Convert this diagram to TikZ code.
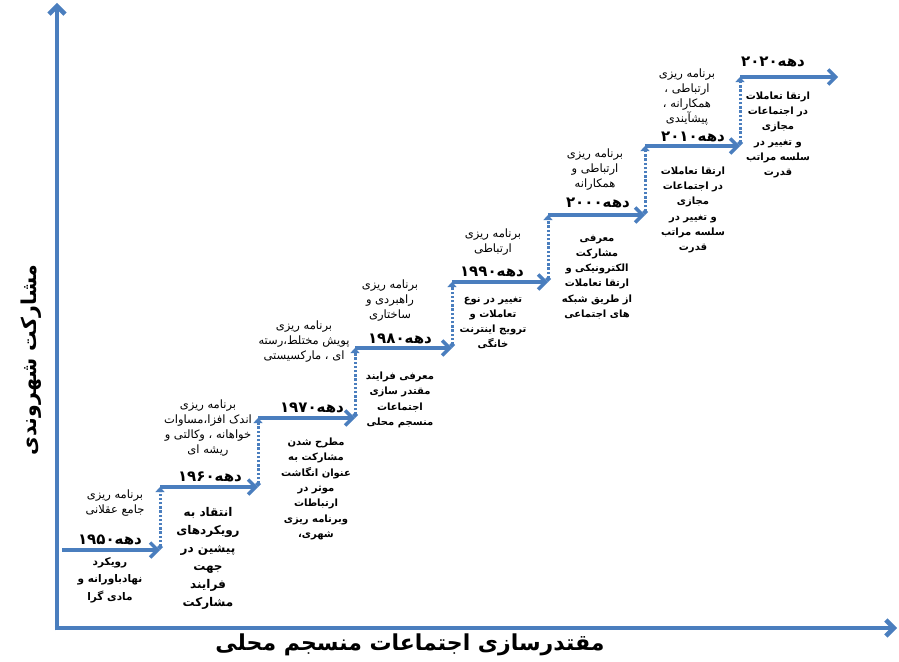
\documentclass[tikz,border=0pt]{standalone}
\usepackage{fontspec}
\usetikzlibrary{arrows.meta}
\TeXXeTstate=1
\newfontfamily\fa[Script=Arabic]{DejaVu Sans}
\definecolor{axblue}{RGB}{74,126,190}
\newcommand{\rl}[1]{\beginR #1\endR}
\begin{document}
\begin{tikzpicture}[x=1pt,y=-1pt,
  every node/.style={text=black, align=center, inner sep=0pt},
  smalltxt/.style={font=\fa\fontsize{11.5}{15}\selectfont},
  smallbold/.style={font=\fa\bfseries\fontsize{10}{15.3}\selectfont},
  midbold/.style={font=\fa\bfseries\fontsize{10.5}{17.5}\selectfont},
  bigbold/.style={font=\fa\bfseries\fontsize{12}{18}\selectfont},
  decade/.style={font=\fa\bfseries\fontsize{15}{16}\selectfont},
  axislabel/.style={font=\fa\bfseries\fontsize{22}{24}\selectfont},
  axislabelv/.style={font=\fa\bfseries\fontsize{20.5}{24}\selectfont},
  axisline/.style={draw=axblue, line width=4.5pt, -{Straight Barb[length=8pt,width=16pt]}},
  steparrow/.style={draw=axblue, line width=3.5pt, -{Straight Barb[length=7.5pt,width=15pt]}},
  dotconn/.style={draw=axblue, line width=3pt, dash pattern=on 2.4pt off 1.8pt,
    {Diamond[length=6pt,width=6pt]}-{Triangle[length=5pt,width=9pt]}}
]
\useasboundingbox (0,0) rectangle (899,661);
% axes
\coordinate (vstart) at (57,630.25);
\coordinate (ytop) at (57,3);
\coordinate (hstart) at (54.75,628);
\coordinate (xend) at (897,628);
\draw[axisline] (vstart) -- (ytop);
\draw[axisline] (hstart) -- (xend);
% staircase points
\coordinate (a0) at (62,550);
\coordinate (a1) at (160,550);
\coordinate (b1) at (160,487);
\coordinate (b2) at (258,487);
\coordinate (c2) at (258,418);
\coordinate (c3) at (355,418);
\coordinate (d3) at (355,348);
\coordinate (d4) at (452,348);
\coordinate (e4) at (452,282);
\coordinate (e5) at (548,282);
\coordinate (f5) at (548,215);
\coordinate (f6) at (645,215);
\coordinate (g6) at (645,146);
\coordinate (g7) at (740,146);
\coordinate (h7) at (740,77);
\coordinate (h8) at (838,77);
\draw[steparrow] (a0) -- (a1);
\draw[dotconn] (a1) -- (b1);
\draw[steparrow] (b1) -- (b2);
\draw[dotconn] (b2) -- (c2);
\draw[steparrow] (c2) -- (c3);
\draw[dotconn] (c3) -- (d3);
\draw[steparrow] (d3) -- (d4);
\draw[dotconn] (d4) -- (e4);
\draw[steparrow] (e4) -- (e5);
\draw[dotconn] (e5) -- (f5);
\draw[steparrow] (f5) -- (f6);
\draw[dotconn] (f6) -- (g6);
\draw[steparrow] (g6) -- (g7);
\draw[dotconn] (g7) -- (h7);
\draw[steparrow] (h7) -- (h8);
% axis labels
\node[axislabel] (xlab) at (410,645) {\rl{مقتدرسازی اجتماعات منسجم محلی}};
\node[axislabelv, rotate=90] (ylab) at (31,360) {\rl{مشارکت شهروندی}};
% decade labels
\node[decade] (d1950) at (110,540) {\rl{دهه۱۹۵۰}};
\node[decade] (d1960) at (210,477) {\rl{دهه۱۹۶۰}};
\node[decade] (d1970) at (312,408) {\rl{دهه۱۹۷۰}};
\node[decade] (d1980) at (400,339) {\rl{دهه۱۹۸۰}};
\node[decade] (d1990) at (492,272) {\rl{دهه۱۹۹۰}};
\node[decade] (d2000) at (598,203) {\rl{دهه۲۰۰۰}};
\node[decade] (d2010) at (693,137) {\rl{دهه۲۰۱۰}};
\node[decade] (d2020) at (773,62) {\rl{دهه۲۰۲۰}};
% texts above arrows
\node[smalltxt] (t1) at (115,503) {\rl{برنامه ریزی}\\\rl{جامع عقلانی}};
\node[smalltxt] (t2) at (208,428) {\rl{برنامه ریزی}\\\rl{اندک افزا،مساوات}\\\rl{خواهانه ، وکالتی و}\\\rl{ریشه ای}};
\node[smalltxt] (t3) at (304,342) {\rl{برنامه ریزی}\\\rl{پویش مختلط،رسته}\\\rl{ای ، مارکسیستی}};
\node[smalltxt] (t4) at (390,301) {\rl{برنامه ریزی}\\\rl{راهبردی و}\\\rl{ساختاری}};
\node[smalltxt] (t5) at (493,242) {\rl{برنامه ریزی}\\\rl{ارتباطی}};
\node[smalltxt] (t6) at (595,170) {\rl{برنامه ریزی}\\\rl{ارتباطی و}\\\rl{همکارانه}};
\node[smalltxt] (t7) at (687,97) {\rl{برنامه ریزی}\\\rl{ارتباطی ،}\\\rl{همکارانه ،}\\\rl{پیشآیندی}};
% texts below arrows
\node[midbold] (s1) at (110,580) {\rl{رویکرد}\\\rl{نهادباورانه و}\\\rl{مادی گرا}};
\node[bigbold] (s2) at (208,558) {\rl{انتقاد به}\\\rl{رویکردهای}\\\rl{پیشین در}\\\rl{جهت}\\\rl{فرایند}\\\rl{مشارکت}};
\node[smallbold] (s3) at (316,489) {\rl{مطرح شدن}\\\rl{مشارکت به}\\\rl{عنوان انگاشت}\\\rl{موثر در}\\\rl{ارتباطات}\\\rl{وبرنامه ریزی}\\\rl{شهری،}};
\node[smallbold] (s4) at (400,400) {\rl{معرفی فرایند}\\\rl{مقتدر سازی}\\\rl{اجتماعات}\\\rl{منسجم محلی}};
\node[smallbold] (s5) at (493,323) {\rl{تغییر در نوع}\\\rl{تعاملات و}\\\rl{ترویج اینترنت}\\\rl{خانگی}};
\node[smallbold] (s6) at (597,277) {\rl{معرفی}\\\rl{مشارکت}\\\rl{الکترونیکی و}\\\rl{ارتقا تعاملات}\\\rl{از طریق شبکه}\\\rl{های اجتماعی}};
\node[smallbold] (s7) at (693,210) {\rl{ارتقا تعاملات}\\\rl{در اجتماعات}\\\rl{مجازی}\\\rl{و تغییر در}\\\rl{سلسه مراتب}\\\rl{قدرت}};
\node[smallbold] (s8) at (778,135) {\rl{ارتقا تعاملات}\\\rl{در اجتماعات}\\\rl{مجازی}\\\rl{و تغییر در}\\\rl{سلسه مراتب}\\\rl{قدرت}};
\end{tikzpicture}
\end{document}
